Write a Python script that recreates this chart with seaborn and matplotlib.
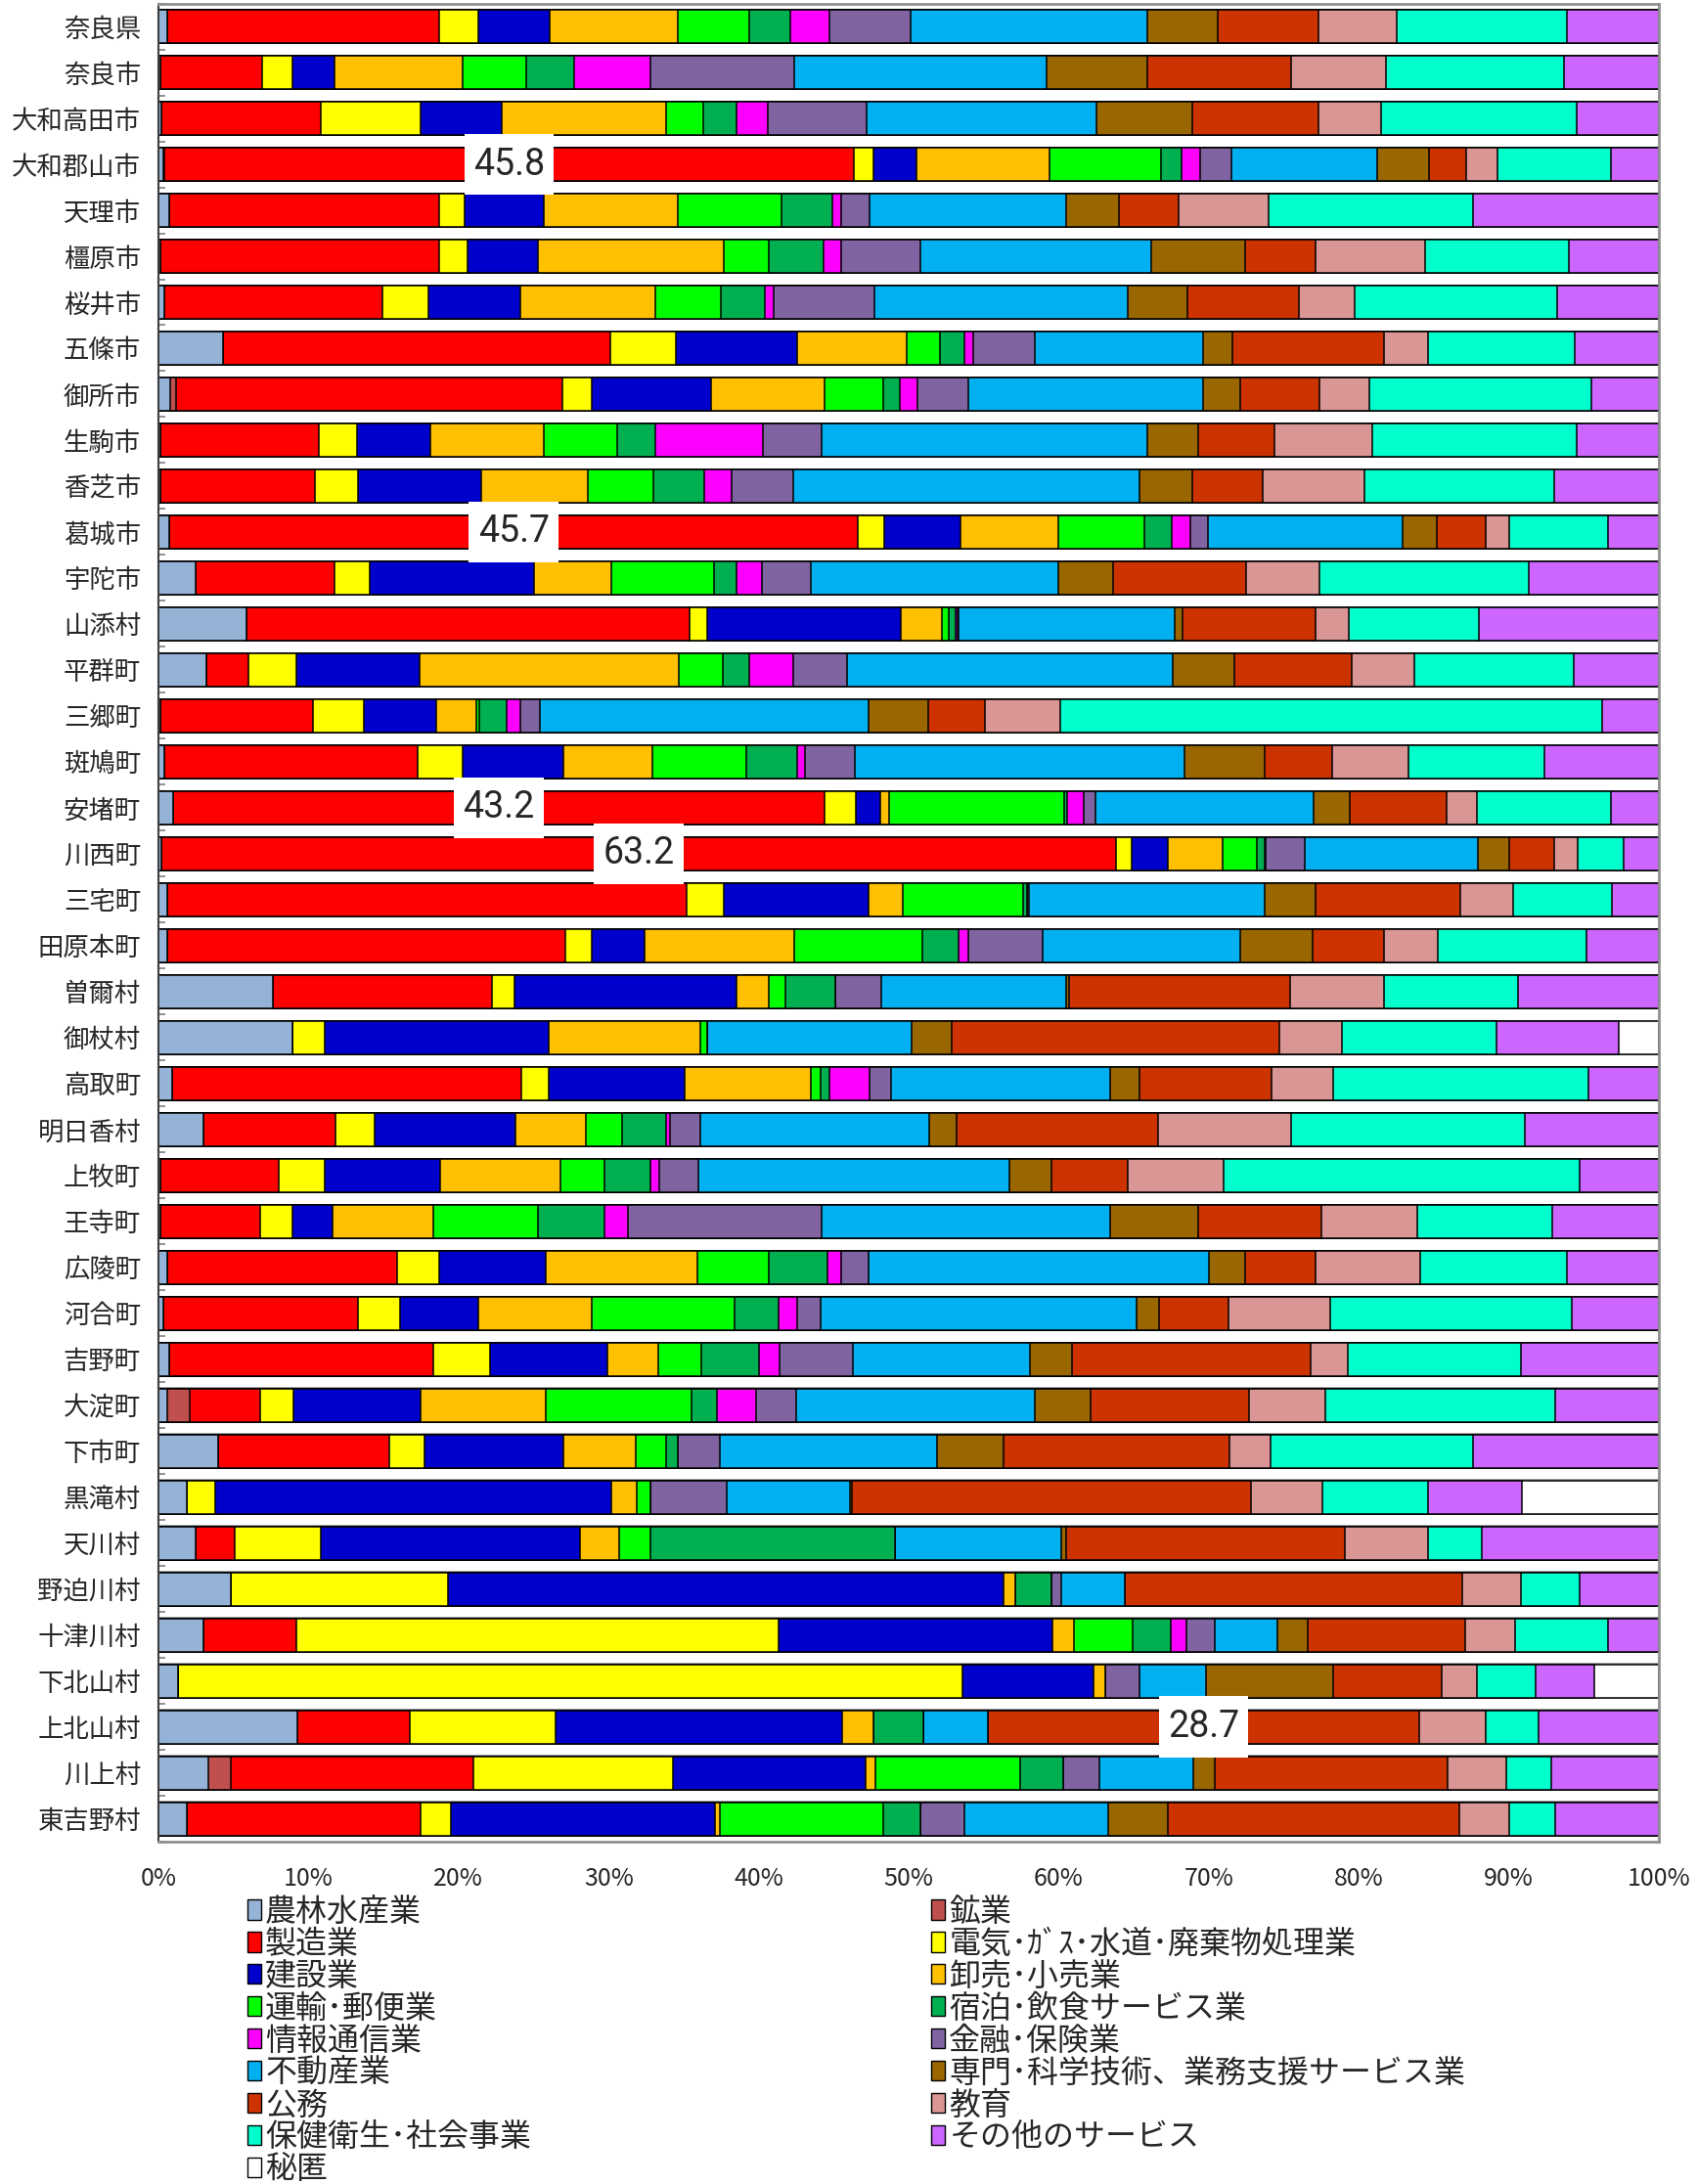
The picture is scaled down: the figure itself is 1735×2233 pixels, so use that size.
import numpy as np
import pandas as pd
import matplotlib
matplotlib.use("Agg")
import matplotlib.pyplot as plt
from matplotlib.patches import Patch
import seaborn as sns

# municipalities (top to bottom)
areas = ["奈良県", "奈良市", "大和高田市", "大和郡山市", "天理市", "橿原市", "桜井市", "五條市", "御所市", "生駒市",
         "香芝市", "葛城市", "宇陀市", "山添村", "平群町", "三郷町", "斑鳩町", "安堵町", "川西町", "三宅町",
         "田原本町", "曽爾村", "御杖村", "高取町", "明日香村", "上牧町", "王寺町", "広陵町", "河合町", "吉野町",
         "大淀町", "下市町", "黒滝村", "天川村", "野迫川村", "十津川村", "下北山村", "上北山村", "川上村", "東吉野村"]

industries = ["農林水産業", "鉱業", "製造業", "電気･ｶﾞｽ･水道･廃棄物処理業", "建設業", "卸売･小売業",
              "運輸･郵便業", "宿泊･飲食サービス業", "情報通信業", "金融･保険業", "不動産業",
              "専門･科学技術、業務支援サービス業", "公務", "教育", "保健衛生･社会事業", "その他のサービス", "秘匿"]

colors = ["#95B3D7", "#C0504D", "#FF0000", "#FFFF00", "#0000CC", "#FFC000", "#00FF00", "#00B050", "#FF00FF",
          "#8064A2", "#00B0F0", "#996600", "#CC3300", "#DA9694", "#00FFCC", "#CC66FF", "#FFFFFF"]

# shares (%) per industry, same order as areas
agri = [0.6, 0.1, 0.2, 0.3, 0.7, 0.1, 0.4, 4.3, 0.8, 0.1, 0.1, 0.7, 2.5, 5.9, 3.2, 0.1, 0.4, 1.0, 0.2, 0.6,
        0.6, 7.6, 8.9, 0.9, 3.0, 0.1, 0.1, 0.6, 0.3, 0.7, 0.6, 4.0, 1.9, 2.5, 4.8, 3.0, 1.3, 9.2, 3.3, 1.9]
mining = [0, 0, 0, 0.1, 0, 0, 0, 0, 0.4, 0, 0, 0, 0, 0, 0, 0, 0, 0, 0, 0,
          0, 0, 0, 0, 0, 0, 0, 0, 0, 0, 1.5, 0, 0, 0, 0, 0, 0, 0, 1.5, 0]
manuf = [18.1, 6.8, 10.6, 45.8, 18.0, 18.6, 14.5, 25.8, 25.7, 10.6, 10.3, 45.7, 9.2, 29.5, 2.8, 10.2, 16.9, 43.2, 63.2, 34.6,
         26.5, 14.6, 0, 23.3, 8.8, 7.9, 6.7, 15.3, 13.0, 17.6, 4.7, 11.4, 0, 2.6, 0, 6.2, 0, 7.5, 16.2, 15.6]
util = [2.6, 2.0, 6.7, 1.3, 1.7, 1.9, 3.1, 4.4, 2.0, 2.5, 2.9, 1.7, 2.4, 1.2, 3.2, 3.4, 3.0, 2.1, 1.0, 2.5,
        1.8, 1.5, 2.2, 1.8, 2.6, 3.1, 2.1, 2.8, 2.8, 3.8, 2.2, 2.3, 1.9, 5.7, 14.5, 32.1, 52.3, 9.7, 13.3, 2.0]
constr = [4.8, 2.8, 5.4, 2.9, 5.3, 4.7, 6.1, 8.1, 7.9, 4.9, 8.2, 5.1, 10.9, 12.9, 8.2, 4.8, 6.7, 1.6, 2.4, 9.6,
          3.5, 14.8, 14.9, 9.1, 9.4, 7.7, 2.7, 7.1, 5.2, 7.8, 8.5, 9.3, 26.4, 17.3, 37.0, 18.3, 8.7, 19.0, 12.8, 17.6]
trade = [8.5, 8.6, 10.9, 8.8, 8.9, 12.4, 9.0, 7.3, 7.6, 7.6, 7.1, 6.5, 5.2, 2.8, 17.3, 2.7, 5.9, 0.6, 3.6, 2.3,
         10.0, 2.2, 10.1, 8.4, 4.7, 8.0, 6.7, 10.1, 7.6, 3.4, 8.3, 4.8, 1.7, 2.6, 0.8, 1.4, 0.8, 2.1, 0.7, 0.3]
transport = [4.8, 4.2, 2.5, 7.4, 6.9, 3.0, 4.4, 2.2, 3.9, 4.9, 4.4, 5.7, 6.8, 0.4, 2.9, 0.2, 6.3, 11.6, 2.3, 8.0,
             8.5, 1.1, 0.5, 0.6, 2.4, 2.9, 7.0, 4.8, 9.5, 2.9, 9.7, 2.0, 0.9, 2.1, 0, 3.9, 0, 0, 9.6, 10.9]
hotel = [2.7, 3.2, 2.2, 1.4, 3.4, 3.6, 2.9, 1.6, 1.1, 2.5, 3.4, 1.8, 1.5, 0.5, 1.8, 1.8, 3.4, 0.2, 0.5, 0.3,
         2.4, 3.3, 0, 0.6, 2.9, 3.1, 4.4, 3.9, 2.9, 3.8, 1.7, 0.8, 0, 16.3, 2.4, 2.6, 0, 3.3, 2.9, 2.5]
info = [2.6, 5.1, 2.1, 1.2, 0.6, 1.2, 0.6, 0.6, 1.2, 7.2, 1.8, 1.2, 1.7, 0.1, 2.9, 0.9, 0.5, 1.1, 0.1, 0.0,
        0.7, 0, 0, 2.7, 0.3, 0.6, 1.6, 0.9, 1.3, 1.4, 2.6, 0, 0, 0, 0, 1.0, 0, 0, 0, 0]
finance = [5.4, 9.6, 6.6, 2.1, 1.9, 5.3, 6.7, 4.1, 3.4, 3.9, 4.1, 1.2, 3.3, 0.1, 3.6, 1.3, 3.3, 0.8, 2.6, 0.1,
           4.9, 3.1, 0, 1.4, 2.0, 2.6, 12.9, 1.8, 1.5, 4.9, 2.7, 2.8, 5.1, 0, 0.7, 1.9, 2.3, 0, 2.4, 2.9]
realestate = [15.8, 16.8, 15.3, 9.7, 13.1, 15.4, 16.9, 11.2, 15.6, 21.7, 23.1, 12.9, 16.5, 14.4, 21.7, 21.9, 22.0, 14.5, 11.4, 15.7,
              13.2, 12.3, 13.6, 14.6, 15.3, 20.7, 19.2, 22.7, 21.1, 11.8, 15.9, 14.5, 8.2, 11.1, 4.2, 4.2, 4.4, 4.3, 6.3, 9.6]
prof = [4.7, 6.7, 6.4, 3.4, 3.5, 6.2, 4.0, 2.0, 2.5, 3.4, 3.5, 2.3, 3.6, 0.5, 4.1, 4.0, 5.3, 2.4, 2.1, 3.4,
        4.8, 0.2, 2.7, 2.0, 1.8, 2.8, 5.9, 2.4, 1.5, 2.8, 3.7, 4.4, 0.1, 0.3, 0, 2.0, 8.5, 0, 1.4, 4.0]
public = [6.7, 9.6, 8.4, 2.5, 4.0, 4.7, 7.4, 10.1, 5.3, 5.1, 4.7, 3.2, 8.9, 8.9, 7.8, 3.8, 4.5, 6.4, 3.0, 9.7,
          4.8, 14.7, 21.8, 8.8, 13.4, 5.1, 8.2, 4.7, 4.6, 15.9, 10.6, 15.1, 26.6, 18.6, 22.5, 10.5, 7.2, 28.7, 15.5, 19.4]
edu = [5.2, 6.3, 4.2, 2.1, 6.0, 7.3, 3.7, 2.9, 3.3, 6.5, 6.8, 1.6, 4.9, 2.2, 4.2, 5.0, 5.1, 2.0, 1.5, 3.5,
       3.6, 6.3, 4.2, 4.1, 8.9, 6.4, 6.4, 7.0, 6.8, 2.5, 5.1, 2.7, 4.8, 5.5, 3.9, 3.3, 2.4, 4.4, 3.9, 3.3]
health = [11.4, 11.9, 13.0, 7.5, 13.6, 9.6, 13.5, 9.8, 14.8, 13.6, 12.6, 6.5, 13.9, 8.7, 10.6, 36.1, 9.1, 8.9, 3.1, 6.6,
          9.9, 8.9, 10.3, 17.0, 15.6, 23.7, 9.0, 9.8, 16.1, 11.5, 15.3, 13.5, 7.0, 3.6, 3.9, 6.2, 3.9, 3.5, 3.0, 3.1]
other = [6.1, 6.3, 5.5, 3.2, 12.4, 6.0, 6.8, 5.6, 4.5, 5.5, 7.0, 3.4, 8.7, 12.0, 5.7, 3.8, 7.6, 3.2, 2.3, 3.1,
         4.8, 9.4, 8.1, 4.7, 8.9, 5.3, 7.1, 6.1, 5.8, 9.2, 6.9, 12.4, 6.3, 11.8, 5.3, 3.4, 3.9, 8.0, 7.2, 6.9]
secret = [0, 0, 0, 0, 0, 0, 0, 0, 0, 0, 0, 0, 0, 0, 0, 0, 0, 0, 0, 0,
          0, 0, 2.7, 0, 0, 0, 0, 0, 0, 0, 0, 0, 9.1, 0, 0, 0, 4.3, 0, 0, 0]

# highlighted cells (area, industry)
callouts = [("大和郡山市", "製造業"), ("葛城市", "製造業"), ("安堵町", "製造業"),
            ("川西町", "製造業"), ("上北山村", "公務")]

series = [agri, mining, manuf, util, constr, trade, transport, hotel, info, finance,
          realestate, prof, public, edu, health, other, secret]
df = pd.DataFrame(np.array(series).T, index=areas, columns=industries)
share = df.div(df.sum(axis=1), axis=0) * 100
cum = share.cumsum(axis=1)

sns.set_theme(style="white")
plt.rcParams['font.family'] = ['Noto Sans CJK JP', 'DejaVu Sans']

fig = plt.figure(figsize=(17.35, 22.33), dpi=100)
ax = fig.add_axes([0.0934, 0.1567, 0.8841, 0.8417])

# faint gray outline behind each bar
sns.barplot(x=[100] * len(areas), y=areas, orient="h", color="#A6A6A6", saturation=1,
            width=0.775, linewidth=0, ax=ax)
# stacked bars: draw cumulative totals from widest to narrowest
for k in range(len(industries) - 1, -1, -1):
    sns.barplot(x=cum.iloc[:, k].values, y=areas, orient="h", color=colors[k], saturation=1,
                width=0.72, edgecolor="black", linewidth=1.1, ax=ax)

for area, ind in callouts:
    i = areas.index(area)
    xc = cum.loc[area, ind] - share.loc[area, ind] / 2
    ax.text(xc, i, f"{df.loc[area, ind]:.1f}", ha="center", va="center", fontsize=27,
            family=["Roboto", "DejaVu Sans"], zorder=10,
            bbox=dict(boxstyle="square,pad=0.25", fc="white", ec="none", mutation_aspect=1.35))

ax.set_xlim(0, 100)
ax.set_ylim(len(areas) - 0.5, -0.5)
ax.set_xticks(np.arange(0, 101, 10))
ax.set_xticklabels([f"{v}%" for v in range(0, 101, 10)])
ax.set_yticks(np.arange(-0.5, len(areas), 1), minor=True)
ax.tick_params(axis="x", length=0, pad=18, labelsize=18)
ax.tick_params(axis="y", which="major", length=0, pad=13, labelsize=19)
ax.tick_params(axis="y", which="minor", direction="in", length=5, color="#808080", width=1.2, left=True)
ax.set_xlabel("")
ax.set_ylabel("")
for s in ["top", "right", "bottom"]:
    ax.spines[s].set_color("#909090")
    ax.spines[s].set_linewidth(2)
ax.spines["left"].set_color("#404040")
ax.spines["left"].set_linewidth(1.5)

handles = [Patch(facecolor=c, edgecolor="black", linewidth=1, label=n) for c, n in zip(colors, industries)]
order = list(range(0, 17, 2)) + list(range(1, 17, 2))
fig.legend([handles[i] for i in order], [industries[i] for i in order], ncol=2,
           loc="upper left", bbox_to_anchor=(0.1458, 0.1318), frameon=False, fontsize=23,
           handlelength=0.45, handleheight=0.6, handletextpad=0.12, labelspacing=0.03,
           columnspacing=12.8, borderpad=0, borderaxespad=0)

fig.savefig("out.png", dpi=100)
